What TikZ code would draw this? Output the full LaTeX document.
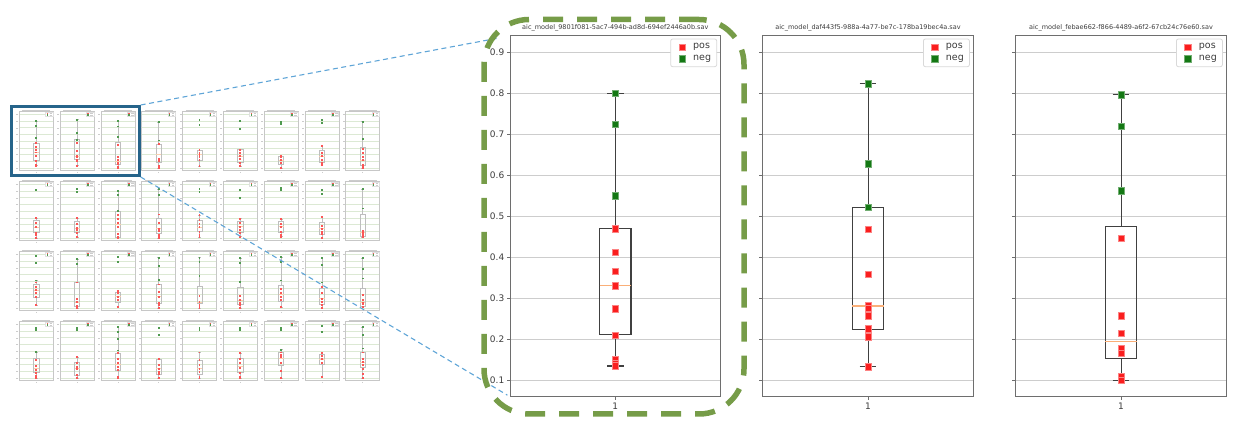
\documentclass[tikz,border=0pt]{standalone}
\usepackage{fontspec}
\setmainfont{DejaVu Sans}
\definecolor{zoomgreen}{RGB}{118,156,72}
\definecolor{selblue}{RGB}{38,100,138}
\definecolor{linkblue}{RGB}{95,165,215}
\definecolor{posred}{RGB}{250,30,30}
\definecolor{neggreen}{RGB}{20,120,20}
\definecolor{medorange}{RGB}{250,175,120}
\definecolor{gridgray}{RGB}{205,205,205}
\definecolor{spinegray}{RGB}{110,110,110}
\definecolor{labelgray}{RGB}{60,60,60}
\definecolor{thumbgrid}{RGB}{220,233,212}
\definecolor{thumbline}{RGB}{190,190,190}

\tikzset{
  % big plots
  gridline/.style={gridgray, line width=0.9pt},
  spine/.style={spinegray, line width=1pt},
  boxline/.style={black!75, line width=1.1pt},
  medline/.style={medorange, line width=1.3pt},
  posmark/.style={rectangle, fill=posred, draw=posred!55, line width=0.5pt, minimum size=6.5pt, inner sep=0pt},
  negmark/.style={rectangle, fill=neggreen, draw=neggreen!60, line width=0.5pt, minimum size=6.5pt, inner sep=0pt},
  plottitle/.style={font=\fontsize{6.5}{7}\selectfont, text=labelgray, inner sep=0pt},
  ticklabel/.style={font=\fontsize{9}{10}\selectfont, text=labelgray, inner sep=0pt},
  legendtext/.style={font=\fontsize{9.5}{10}\selectfont, text=labelgray, inner sep=0pt, anchor=west},
  legendbox/.style={draw=black!15, fill=white, line width=0.8pt, rounded corners=2pt},
  % thumbnails
  thumbgridline/.style={thumbgrid, line width=0.6pt},
  thumbframe/.style={black!22, line width=0.7pt},
  thumbbox/.style={thumbline, line width=0.7pt},
  thumbmed/.style={medorange!60, line width=0.6pt},
  thumbpos/.style={rectangle, fill=posred!75, minimum size=1.9pt, inner sep=0pt},
  thumbneg/.style={rectangle, fill=neggreen!75, minimum size=1.9pt, inner sep=0pt},
  thumbtext/.style={black!20, line width=0.8pt},
  % zoom marks
  selbox/.style={draw=selblue, line width=2.7pt, minimum width=128pt, minimum height=69.3pt, inner sep=0pt},
  zoomlink/.style={linkblue, line width=1.1pt, dash pattern=on 5pt off 3.5pt},
  zoomring/.style={draw=zoomgreen, line width=5.5pt, dash pattern=on 20pt off 14pt, rounded corners=45pt,
    minimum width=260pt, minimum height=394.5pt, inner sep=0pt}
}

% small copy of a plot: col, row, whisker top, box top, median, box bottom, whisker bottom, neg, pos
\newcommand{\thumb}[9]{%
  \begin{scope}[shift={({19.3+40.8*(#1-1)},{111.7+70*(#2-1)})}]
    \draw[thumbtext] (3,-1.2) -- (31,-1.2);
    \draw[thumbtext, line width=0.5pt] (17,60.3) -- (17,61.3);
  \end{scope}
  \begin{scope}[shift={({19.3+40.8*(#1-1)},{111.7+70*(#2-1)+63})}, yscale=-67]
    \foreach \k in {1,...,9}{
      \draw[thumbgridline] (0,\k/10) -- (34,\k/10);
      \draw[thumbtext, line width=0.5pt] (-1,\k/10) -- (-3,\k/10);
    }
    \draw[thumbframe] (0,0.06) rectangle (34,0.94);
    \draw[thumbbox] (17,#3) -- (17,#4) (17,#6) -- (17,#7);
    \draw[thumbbox] (15.6,#3) -- (18.4,#3) (15.6,#7) -- (18.4,#7);
    \draw[thumbbox] (14.4,#6) rectangle (19.6,#4);
    \draw[thumbmed] (14.4,#5) -- (19.6,#5);
    \foreach \v [count=\k] in {#9}
      \node[thumbpos] (tpos\k) at (17,\v) {};
    \foreach \v [count=\k] in {#8}
      \node[thumbneg] (tneg\k) at (17,\v) {};
  \end{scope}
  \begin{scope}[shift={({19.3+40.8*(#1-1)},{111.7+70*(#2-1)})}]
    \draw[draw=black!12, fill=white, line width=0.4pt] (26.2,0.6) rectangle (33.7,4.6);
    \node[thumbpos, minimum size=1.4pt] (tlpos) at (28,1.9) {};
    \node[thumbneg, minimum size=1.4pt] (tlneg) at (28,3.5) {};
    \draw[thumbtext, line width=0.6pt] (30.2,1.9) -- (32.6,1.9) (30.2,3.5) -- (32.6,3.5);
  \end{scope}
}

% frame, grid and ticks of a big plot: left edge, title
\newcommand{\bigaxes}[2]{%
  \begin{scope}[shift={(#1,0)}]
    \node[plottitle] (title) at (105.35,28.3) {#2};
  \end{scope}
  \begin{scope}[shift={(#1,421.3)}, yscale=-410]
    \foreach \k in {1,...,9}{
      \draw[gridline] (0,\k/10) -- (210.7,\k/10);
      \draw[spine] (0,\k/10) -- (-3.5,\k/10);
    }
    \draw[spine] (0,0.06) rectangle (210.7,0.94);
    \draw[spine] (105.35,0.06) -- (105.35,0.0515);
    \node[ticklabel] (xtick) at (105.35,0.036) {1};
  \end{scope}
}

% box and whiskers: whisker top, box top, median, box bottom, whisker bottom
\newcommand{\bigbox}[5]{%
  \draw[boxline] (105.35,#1) -- (105.35,#2);
  \draw[boxline] (105.35,#4) -- (105.35,#5);
  \draw[boxline] (97,#1) -- (113.7,#1);
  \draw[boxline] (97,#5) -- (113.7,#5);
  \draw[boxline] (89.7,#4) rectangle (121,#2);
  \draw[medline] (89.7,#3) -- (121,#3);
}

% legend in the upper right corner
\newcommand{\plotlegend}[1]{%
  \begin{scope}[shift={(#1,0)}]
    \draw[legendbox] (160.7,39) rectangle (206.7,66.7);
    \node[posmark] (lpos) at (172,47.3) {};
    \node[legendtext] (lpostext) at (183,47.3) {pos};
    \node[negmark] (lneg) at (172,59) {};
    \node[legendtext] (lnegtext) at (183,59) {neg};
  \end{scope}
}

\begin{document}
\begin{tikzpicture}[x=1pt, y=-1pt]
  \useasboundingbox (0,0) rectangle (1259,435);

  % overview of all models
  \thumb{1}{1}{0.80}{0.47}{0.331}{0.212}{0.135}{0.80,0.725,0.55}{0.47,0.412,0.366,0.331,0.274,0.21,0.15,0.14,0.135}
  \thumb{2}{1}{0.823}{0.522}{0.281}{0.224}{0.133}{0.823,0.628,0.522}{0.469,0.359,0.283,0.276,0.258,0.226,0.206,0.133}
  \thumb{3}{1}{0.796}{0.476}{0.194}{0.154}{0.10}{0.796,0.72,0.562}{0.447,0.258,0.215,0.178,0.166,0.109,0.10}
  \thumb{4}{1}{0.78}{0.46}{0.30}{0.18}{0.10}{0.78,0.51}{0.46,0.24,0.20,0.13,0.10}
  \thumb{5}{1}{0.37}{0.36}{0.30}{0.22}{0.13}{0.815,0.736}{0.37,0.33,0.30,0.27,0.22,0.13}
  \thumb{6}{1}{0.38}{0.38}{0.28}{0.19}{0.13}{0.805,0.686}{0.37,0.33,0.28,0.23,0.18,0.13}
  \thumb{7}{1}{0.28}{0.28}{0.22}{0.16}{0.10}{0.79,0.75}{0.28,0.26,0.22,0.17,0.10}
  \thumb{8}{1}{0.43}{0.36}{0.28}{0.19}{0.14}{0.81,0.77}{0.43,0.33,0.28,0.22,0.18,0.14}
  \thumb{9}{1}{0.79}{0.41}{0.22}{0.14}{0.10}{0.79,0.53}{0.38,0.32,0.27,0.22,0.14,0.12,0.10}

  \thumb{1}{2}{0.40}{0.36}{0.26}{0.18}{0.10}{0.81}{0.40,0.32,0.26,0.18,0.14,0.10}
  \thumb{2}{2}{0.40}{0.35}{0.25}{0.18}{0.11}{0.83,0.78}{0.40,0.31,0.25,0.22,0.17,0.11}
  \thumb{3}{2}{0.80}{0.50}{0.30}{0.11}{0.10}{0.80,0.74,0.50}{0.44,0.38,0.32,0.27,0.16,0.11,0.10}
  \thumb{4}{2}{0.83}{0.39}{0.24}{0.17}{0.10}{0.83,0.74}{0.45,0.32,0.24,0.21,0.14,0.11,0.10}
  \thumb{5}{2}{0.44}{0.37}{0.26}{0.20}{0.11}{0.83,0.78}{0.44,0.37,0.31,0.26,0.19,0.14,0.11}
  \thumb{6}{2}{0.39}{0.35}{0.27}{0.18}{0.12}{0.82,0.70}{0.39,0.32,0.27,0.22,0.17,0.12}
  \thumb{7}{2}{0.38}{0.35}{0.27}{0.18}{0.12}{0.85,0.81}{0.38,0.31,0.27,0.19,0.14,0.12}
  \thumb{8}{2}{0.42}{0.34}{0.24}{0.16}{0.10}{0.82,0.75}{0.42,0.28,0.24,0.19,0.16,0.10}
  \thumb{9}{2}{0.83}{0.45}{0.18}{0.13}{0.11}{0.83,0.54}{0.21,0.18,0.14,0.11}

  \thumb{1}{3}{0.51}{0.45}{0.37}{0.26}{0.14}{0.87,0.77,0.51}{0.48,0.42,0.37,0.32,0.27,0.14}
  \thumb{2}{3}{0.83}{0.48}{0.19}{0.13}{0.10}{0.83,0.75}{0.48,0.23,0.19,0.13,0.10}
  \thumb{3}{3}{0.36}{0.34}{0.27}{0.19}{0.12}{0.86,0.78}{0.36,0.32,0.27,0.22,0.12}
  \thumb{4}{3}{0.85}{0.45}{0.27}{0.17}{0.10}{0.85,0.73,0.52}{0.45,0.34,0.27,0.17,0.14,0.10}
  \thumb{5}{3}{0.85}{0.42}{0.19}{0.17}{0.10}{0.85,0.79,0.58}{0.28,0.19,0.14,0.12,0.10}
  \thumb{6}{3}{0.84}{0.41}{0.22}{0.15}{0.10}{0.84,0.77,0.49}{0.28,0.22,0.18,0.14,0.10}
  \thumb{7}{3}{0.86}{0.44}{0.30}{0.20}{0.11}{0.86,0.78,0.51}{0.39,0.33,0.27,0.22,0.11}
  \thumb{8}{3}{0.84}{0.39}{0.24}{0.16}{0.10}{0.84,0.74,0.48}{0.42,0.32,0.24,0.19,0.14,0.10}
  \thumb{9}{3}{0.84}{0.40}{0.18}{0.13}{0.12}{0.84,0.68,0.54}{0.29,0.22,0.18,0.16,0.12}

  \thumb{1}{4}{0.49}{0.39}{0.25}{0.18}{0.10}{0.85,0.82,0.49}{0.37,0.28,0.22,0.17,0.13,0.10}
  \thumb{2}{4}{0.41}{0.34}{0.25}{0.14}{0.10}{0.85,0.81}{0.41,0.33,0.27,0.23,0.14,0.10}
  \thumb{3}{4}{0.86}{0.47}{0.30}{0.22}{0.10}{0.86,0.79,0.68,0.51}{0.47,0.39,0.32,0.27,0.22,0.12,0.10}
  \thumb{4}{4}{0.38}{0.38}{0.24}{0.16}{0.10}{0.85,0.74}{0.38,0.29,0.24,0.19,0.16,0.10}
  \thumb{5}{4}{0.48}{0.37}{0.24}{0.16}{0.10}{0.85,0.81}{0.48,0.37,0.29,0.24,0.19,0.12,0.10}
  \thumb{6}{4}{0.47}{0.40}{0.28}{0.18}{0.10}{0.85,0.81}{0.47,0.39,0.32,0.25,0.18,0.12,0.10}
  \thumb{7}{4}{0.53}{0.48}{0.40}{0.29}{0.10}{0.85,0.81,0.52}{0.48,0.44,0.42,0.32,0.21,0.10}
  \thumb{8}{4}{0.47}{0.45}{0.38}{0.30}{0.12}{0.88,0.78}{0.47,0.43,0.38,0.32,0.12}
  \thumb{9}{4}{0.86}{0.48}{0.34}{0.26}{0.10}{0.86,0.74,0.54}{0.48,0.39,0.34,0.29,0.24,0.16,0.10}

  % selection of the first three
  \node[selbox] (sel) at (75.35,141) {};

  % first plot
  \bigaxes{510}{aic\_model\_9801f081-5ac7-494b-ad8d-694ef2446a0b.sav}
  \begin{scope}[shift={(510,421.3)}, yscale=-410]
    \foreach \k in {1,...,9}
      \node[ticklabel, anchor=east] (ylab\k) at (-5.5,\k/10) {0.\k};
    \coordinate (axtop) at (0,0.94);
    \coordinate (axbottom) at (0,0.06);
    \bigbox{0.80}{0.47}{0.331}{0.212}{0.135}
    \foreach \v [count=\k] in {0.47,0.412,0.366,0.331,0.274,0.21,0.15,0.14,0.135}
      \node[posmark] (apos\k) at (105.35,\v) {};
    \foreach \v [count=\k] in {0.80,0.725,0.55}
      \node[negmark] (aneg\k) at (105.35,\v) {};
  \end{scope}
  \plotlegend{510}

  % second plot
  \bigaxes{762.7}{aic\_model\_daf443f5-988a-4a77-be7c-178ba19bec4a.sav}
  \begin{scope}[shift={(762.7,421.3)}, yscale=-410]
    \bigbox{0.823}{0.522}{0.281}{0.224}{0.133}
    \foreach \v [count=\k] in {0.469,0.359,0.283,0.276,0.258,0.226,0.206,0.133}
      \node[posmark] (bpos\k) at (105.35,\v) {};
    \foreach \v [count=\k] in {0.823,0.628,0.522}
      \node[negmark] (bneg\k) at (105.35,\v) {};
  \end{scope}
  \plotlegend{762.7}

  % third plot
  \bigaxes{1015.7}{aic\_model\_febae662-f866-4489-a6f2-67cb24c76e60.sav}
  \begin{scope}[shift={(1015.7,421.3)}, yscale=-410]
    \bigbox{0.796}{0.476}{0.194}{0.154}{0.10}
    \foreach \v [count=\k] in {0.447,0.258,0.215,0.178,0.166,0.109,0.10}
      \node[posmark] (cpos\k) at (105.35,\v) {};
    \foreach \v [count=\k] in {0.796,0.72,0.562}
      \node[negmark] (cneg\k) at (105.35,\v) {};
  \end{scope}
  \plotlegend{1015.7}

  % zoom lines and frame
  \draw[zoomlink, shorten >=12pt] (sel.north east) -- (axtop);
  \draw[zoomlink, shorten >=3pt] (sel.south east) -- (axbottom);
  \node[zoomring] (zoom) at (614,216.75) {};
\end{tikzpicture}
\end{document}
